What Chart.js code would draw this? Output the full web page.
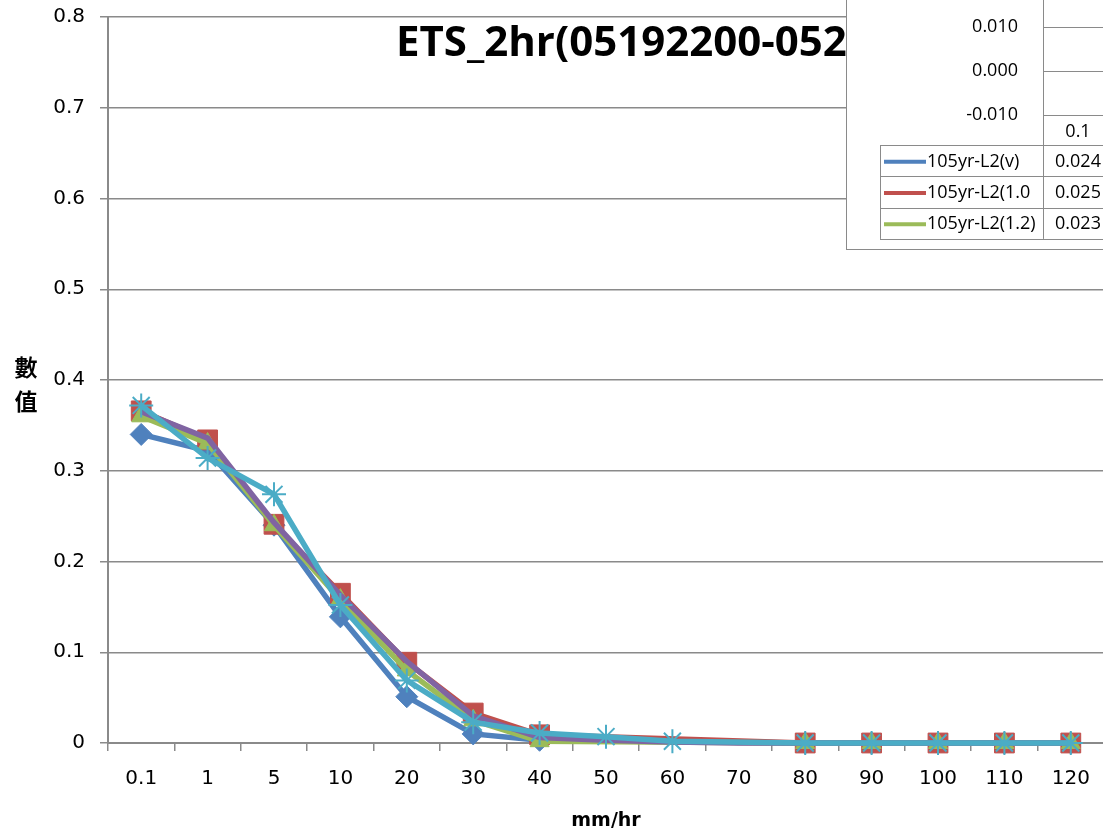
<!DOCTYPE html>
<html>
<head>
<meta charset="utf-8">
<title>ETS_2hr</title>
<script src="https://cdn.jsdelivr.net/npm/chart.js@4"></script>
<style>
  html, body { margin: 0; padding: 0; background: #fff; overflow: hidden; }
  #page { position: relative; width: 1103px; height: 832px; overflow: hidden; }
  #main { position: absolute; left: 0; top: 0; }
  #insetBox { position: absolute; left: 846px; top: -40px; width: 290px; height: 289px;
              background: #fff; border-left: 1px solid #8a8a8a; border-bottom: 1px solid #8a8a8a; }
  #inset { display: block; }
</style>
</head>
<body>
<div id="page">
  <canvas id="main" width="1112" height="832"></canvas>
  <div id="insetBox"><canvas id="inset" width="290" height="289"></canvas></div>
</div>
<script>
// rain rate classes (mm/hr)
const rainClasses = ['0.1', '1', '5', '10', '20', '30', '40', '50', '60', '70', '80', '90', '100', '110', '120'];

// ETS per class for each run
const etsBlue   = [0.340, 0.322, 0.240, 0.139, 0.051, 0.010, 0.003, null, null, null, 0, 0, 0, 0, 0];
const etsRed    = [0.366, 0.334, 0.241, 0.165, 0.089, 0.033, 0.009, null, null, null, 0, 0, 0, 0, 0];
const etsGreen  = [0.360, 0.330, 0.240, 0.158, 0.080, 0.025, 0.002, null, null, null, 0, 0, 0, 0, 0];
const etsPurple = [0.365, 0.336, 0.243, 0.163, 0.090, 0.030, 0.006, 0.003, 0.001, 0, 0, 0, 0, 0, 0];
const etsCyan   = [0.372, 0.314, 0.274, 0.152, 0.069, 0.023, 0.011, 0.007, 0.002, null, 0, 0, 0, 0, 0];

const yTicksMain = [0, 0.1, 0.2, 0.3, 0.4, 0.5, 0.6, 0.7, 0.8];

// small table chart in the corner
const insetClasses = ['0.1'];
const insetNames = ['105yr-L2(v)', '105yr-L2(1.0', '105yr-L2(1.2)'];
const insetValues = [0.024, 0.025, 0.023];

const titleText = 'ETS_2hr(05192200-052';
const yTitleChars = ['數', '值'];

const BLUE = '#4F81BD', RED = '#C0504D', GREEN = '#9BBB59', PURPLE = '#8064A2', CYAN = '#4BACC6';
const GRID = '#8a8a8a';

function series(data, color, style, radius, order) {
  return {
    data: data,
    borderColor: color,
    backgroundColor: color,
    borderWidth: 5.5,
    pointStyle: style,
    pointRadius: radius,
    pointBorderWidth: style === 'star' ? 2 : 1,
    pointBorderColor: color,
    pointBackgroundColor: color,
    tension: 0,
    spanGaps: true,
    clip: false,
    order: order
  };
}

// keep the plot box where the layout padding puts it
function noScalePadding(s) {
  s.paddingTop = 0;
  s.paddingBottom = 0;
  s.paddingLeft = 0;
  s.paddingRight = 0;
}

// title and the stacked y title
const mainText = {
  id: 'mainText',
  afterDraw(chart) {
    const ctx = chart.ctx;
    ctx.save();
    ctx.fillStyle = '#000';
    ctx.font = 'bold 42px "Open Sans"';
    ctx.textAlign = 'left';
    ctx.textBaseline = 'alphabetic';
    ctx.fillText(titleText, 396, 56);
    ctx.font = 'bold 23px "Noto Sans CJK TC"';
    ctx.textAlign = 'center';
    ctx.textBaseline = 'middle';
    yTitleChars.forEach((c, i) => ctx.fillText(c, 26, 367 + i * 34));
    ctx.restore();
  }
};

new Chart(document.getElementById('main'), {
  type: 'line',
  data: {
    labels: rainClasses,
    datasets: [
      series(etsBlue, BLUE, 'rectRot', 11, 5),
      series(etsRed, RED, 'rect', 14, 4),
      series(etsGreen, GREEN, 'triangle', 11, 3),
      series(etsPurple, PURPLE, 'circle', 0, 2),
      series(etsCyan, CYAN, 'star', 12, 1)
    ]
  },
  options: {
    responsive: false,
    animation: false,
    layout: { autoPadding: false, padding: { left: 0, top: 17, right: 8, bottom: 0 } },
    plugins: { legend: { display: false }, tooltip: { enabled: false }, title: { display: false } },
    scales: {
      x: {
        offset: true,
        grid: { offset: true, drawOnChartArea: false, drawTicks: true, tickLength: 8, color: GRID, lineWidth: 1.5 },
        border: { color: GRID, width: 2 },
        ticks: { color: '#000', font: { family: 'DejaVu Sans', size: 20 }, padding: 16, maxRotation: 0, autoSkip: false },
        title: { display: true, text: 'mm/hr', color: '#000', font: { family: 'DejaVu Sans', size: 19, weight: 'bold' }, padding: { top: 0, bottom: 0 } },
        afterFit(s) { s.height = 89; noScalePadding(s); }
      },
      y: {
        min: 0,
        max: 0.8,
        afterBuildTicks(s) { s.ticks = yTicksMain.map(v => ({ value: v })); },
        grid: { color: GRID, lineWidth: 1.5, tickLength: 8 },
        border: { color: GRID, width: 2 },
        ticks: {
          color: '#000', font: { family: 'DejaVu Sans', size: 20 }, padding: 15,
          callback: v => v === 0 ? '0' : v.toFixed(1)
        },
        afterFit(s) { s.width = 108; noScalePadding(s); }
      }
    }
  },
  plugins: [mainText]
});

// data table under the small chart
const dataTable = {
  id: 'dataTable',
  afterDraw(chart) {
    const ctx = chart.ctx;
    const area = chart.chartArea;
    const cx = chart.scales.x.getPixelForValue(0);
    const left = 33, top = 185, rowH = 31.3;
    const rows = chart.data.datasets.length;
    const bottom = top + rows * rowH;
    ctx.save();
    ctx.strokeStyle = GRID;
    ctx.lineWidth = 1;
    ctx.beginPath();
    ctx.moveTo(area.left + 0.5, area.bottom);
    ctx.lineTo(area.left + 0.5, bottom);
    ctx.moveTo(left + 0.5, top);
    ctx.lineTo(left + 0.5, bottom);
    for (let i = 0; i <= rows; i++) {
      const y = Math.round(top + i * rowH) + 0.5;
      ctx.moveTo(left, y);
      ctx.lineTo(chart.width, y);
    }
    ctx.stroke();
    ctx.font = '18px "Open Sans"';
    ctx.textBaseline = 'middle';
    chart.data.datasets.forEach((ds, i) => {
      const y = top + i * rowH + rowH / 2 + 1;
      ctx.strokeStyle = ds.borderColor;
      ctx.lineWidth = 4;
      ctx.beginPath();
      ctx.moveTo(left + 4, y);
      ctx.lineTo(left + 46, y);
      ctx.stroke();
      ctx.fillStyle = '#000';
      ctx.textAlign = 'left';
      ctx.fillText(ds.label, left + 47, y);
      ctx.textAlign = 'center';
      ctx.fillText(ds.data[0].toFixed(3), cx, y);
    });
    ctx.restore();
  }
};

const insetColors = [BLUE, RED, GREEN];
new Chart(document.getElementById('inset'), {
  type: 'line',
  data: {
    labels: insetClasses,
    datasets: insetNames.map((n, i) => ({
      label: n,
      data: [insetValues[i]],
      borderColor: insetColors[i],
      backgroundColor: insetColors[i],
      borderWidth: 4,
      pointRadius: 0
    }))
  },
  options: {
    responsive: false,
    animation: false,
    layout: { padding: { left: 0, top: 23, right: 24, bottom: 0 } },
    plugins: { legend: { display: false }, tooltip: { enabled: false } },
    scales: {
      x: {
        offset: true,
        grid: { display: false, drawTicks: false },
        border: { color: GRID, width: 1 },
        ticks: { color: '#000', font: { family: 'Open Sans', size: 18 }, padding: 6, maxRotation: 0 },
        afterFit(s) { s.height = 134; noScalePadding(s); }
      },
      y: {
        min: -0.01,
        max: 0.02,
        grid: { color: GRID, lineWidth: 1, drawTicks: false },
        border: { color: GRID, width: 1 },
        ticks: { stepSize: 0.01, color: '#000', font: { family: 'Open Sans', size: 18 }, padding: 25,
                 callback: v => v.toFixed(3) },
        afterFit(s) { s.width = 196; noScalePadding(s); }
      }
    }
  },
  plugins: [dataTable]
});
</script>
</body>
</html>
